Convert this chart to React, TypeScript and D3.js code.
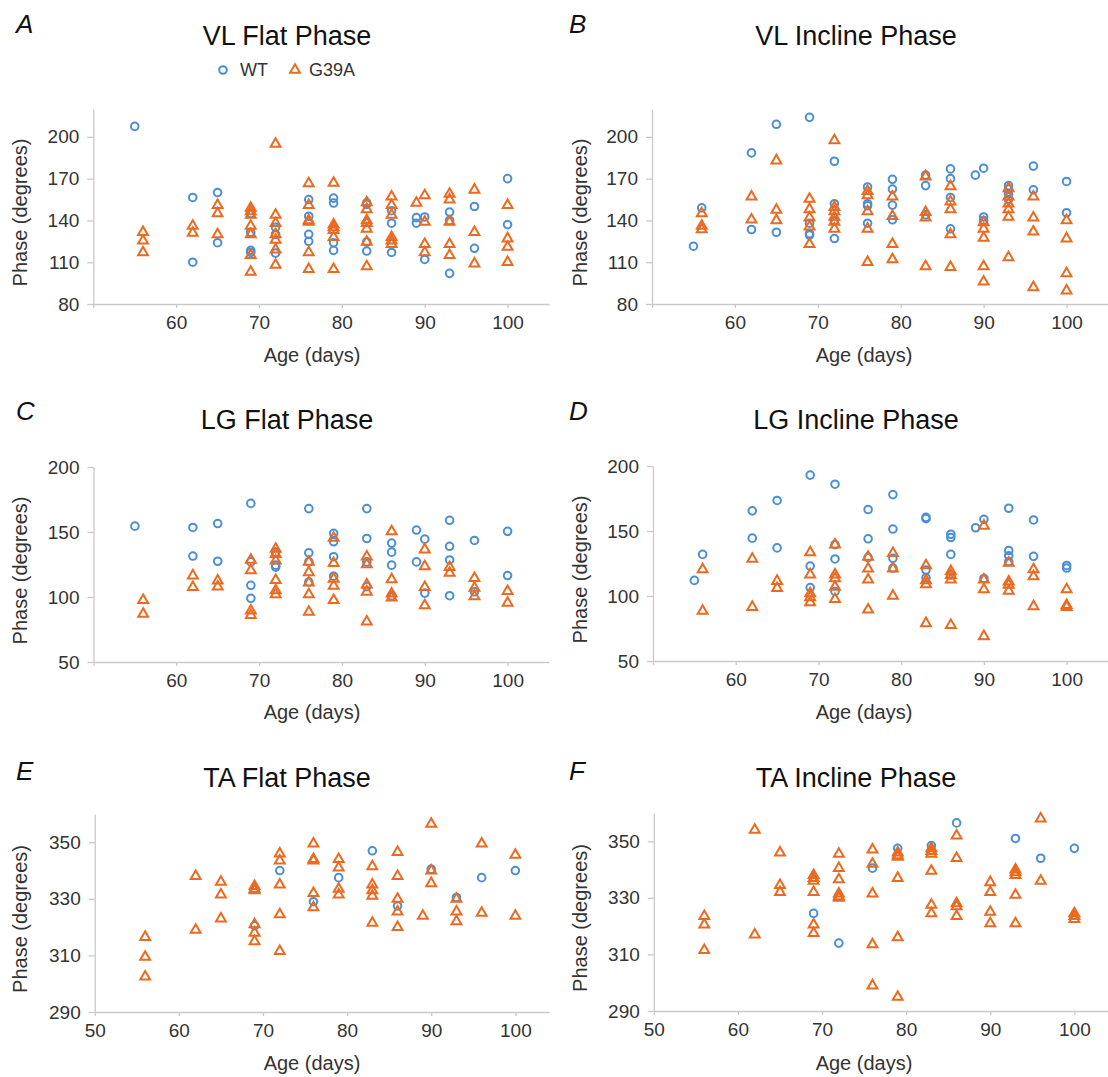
import * as d3 from "d3";
import { useEffect, useRef } from "react";

type Pt = [number, number]; // [age in days, phase in degrees]

const ageTicks = [50, 60, 70, 80, 90, 100];
const vlTicks = [80, 110, 140, 170, 200];
const lgTicks = [50, 100, 150, 200];
const taTicks = [290, 310, 330, 350];

const vlFlatWT: Pt[] = [
    [55, 207.5], [62, 156.5], [62, 110], [65, 160], [65, 124], [69, 145], [69, 131.5], [69, 118.5], [69, 117],
    [72, 135], [72, 130], [72, 116.5], [76, 155], [76, 143], [76, 130], [76, 125], [79, 156], [79, 152.5],
    [79, 124], [79, 118.5], [83, 152.5], [83, 151.5], [83, 124.5], [83, 118], [86, 147], [86, 138], [86, 117],
    [89, 142], [89, 138], [90, 142.5], [90, 112], [93, 146], [93, 140], [93, 102], [96, 150], [96, 120],
    [100, 170], [100, 137],
];
const vlFlatG39A: Pt[] = [
    [56, 131.5], [56, 125.5], [56, 117], [62, 136], [62, 131], [65, 151], [65, 145], [65, 130],
    [69, 149], [69, 146.5], [69, 144], [69, 136], [69, 130], [69, 115], [69, 103],
    [72, 195], [72, 144], [72, 138], [72, 130], [72, 126], [72, 119], [72, 108],
    [76, 166.5], [76, 151], [76, 140], [76, 139], [76, 117], [76, 105],
    [79, 167], [79, 137], [79, 135], [79, 133], [79, 128], [79, 105],
    [83, 153], [83, 148], [83, 140], [83, 138], [83, 134], [83, 124.5], [83, 107],
    [86, 157], [86, 151], [86, 144], [86, 128], [86, 125.5], [86, 123], [89, 152.5],
    [90, 158], [90, 139], [90, 123], [90, 117], [93, 159], [93, 155], [93, 139], [93, 123], [93, 115],
    [96, 162], [96, 131.5], [96, 109], [100, 151], [100, 127], [100, 121], [100, 110],
];

const vlInclineWT: Pt[] = [
    [55, 121.5], [56, 149], [62, 188.5], [62, 133.5], [65, 209], [65, 131.5], [69, 214], [69, 138], [69, 130.5],
    [69, 129.5], [72, 182.5], [72, 152], [72, 140], [72, 127], [76, 164], [76, 152], [76, 150.5], [76, 138],
    [79, 169.5], [79, 162.5], [79, 151], [79, 140.5], [83, 172.5], [83, 165], [83, 144], [86, 177], [86, 170],
    [86, 156.5], [86, 134], [89, 172.5], [90, 177.5], [90, 142.5], [90, 140], [93, 165], [93, 162.5], [93, 159],
    [93, 155], [96, 179], [96, 162], [100, 168], [100, 145.5],
];
const vlInclineG39A: Pt[] = [
    [56, 145], [56, 136], [56, 133.5], [62, 157], [62, 140.5], [65, 183], [65, 147.5], [65, 140],
    [69, 155.5], [69, 148], [69, 142], [69, 135.5], [69, 123],
    [72, 197.5], [72, 149.5], [72, 146.5], [72, 142.5], [72, 139], [72, 134],
    [76, 161], [76, 158], [76, 146.5], [76, 134], [76, 110], [79, 157], [79, 143], [79, 123], [79, 112],
    [83, 171.5], [83, 146], [83, 142], [83, 107], [86, 164.5], [86, 153.5], [86, 148], [86, 130], [86, 106.5],
    [90, 138.5], [90, 134], [90, 127.5], [90, 107], [90, 96],
    [93, 163], [93, 157], [93, 152], [93, 148], [93, 142.5], [93, 113.5],
    [96, 157], [96, 142], [96, 132], [96, 92], [100, 140], [100, 127], [100, 102], [100, 89.5],
];

const lgFlatWT: Pt[] = [
    [55, 154.5], [62, 153.5], [62, 131.5], [65, 156.5], [65, 127.5], [69, 172], [69, 127], [69, 109], [69, 99],
    [72, 134.5], [72, 124.5], [72, 123], [76, 168], [76, 134], [76, 127], [76, 111.5], [79, 149], [79, 142.5],
    [79, 131], [79, 116], [83, 168], [83, 145], [83, 127], [83, 108], [86, 141.5], [86, 134.5], [86, 124.5],
    [86, 101], [89, 151.5], [89, 127], [90, 144.5], [90, 103], [93, 159], [93, 139], [93, 128.5], [93, 101],
    [96, 143.5], [96, 104], [100, 150.5], [100, 116.5],
];
const lgFlatG39A: Pt[] = [
    [56, 97.5], [56, 87], [62, 116.5], [62, 107.5], [65, 112.5], [65, 108],
    [69, 128.5], [69, 120.5], [69, 89.5], [69, 86], [72, 137], [72, 133], [72, 128], [72, 113], [72, 105], [72, 102],
    [76, 127], [76, 119], [76, 111], [76, 102], [76, 88.5], [79, 145.5], [79, 126], [79, 114], [79, 108.5], [79, 97.5],
    [83, 131], [83, 125], [83, 109.5], [83, 104], [83, 81], [86, 150.5], [86, 113.5], [86, 102.5], [86, 99.5],
    [90, 136.5], [90, 123.5], [90, 107.5], [90, 93.5], [93, 123], [93, 118.5],
    [96, 114.5], [96, 107], [96, 100.5], [100, 104.5], [100, 95.5],
];

const lgInclineWT: Pt[] = [
    [55, 112], [56, 132], [62, 165.5], [62, 144.5], [65, 173.5], [65, 137], [69, 193], [69, 123], [69, 106.5],
    [72, 186], [72, 139.5], [72, 128.5], [72, 103.5], [76, 166.5], [76, 144], [76, 129.5], [79, 178], [79, 151.5],
    [79, 129], [79, 121.5], [83, 160.5], [83, 159.5], [83, 120], [83, 114], [86, 147.5], [86, 145], [86, 132],
    [86, 116], [89, 152.5], [90, 159], [90, 113.5], [93, 167.5], [93, 135], [93, 131], [93, 126.5],
    [96, 158.5], [96, 130.5], [100, 123.5], [100, 121.5],
];
const lgInclineG39A: Pt[] = [
    [56, 120.5], [56, 88.5], [62, 128.5], [62, 91.5], [65, 111.5], [65, 106],
    [69, 133.5], [69, 116.5], [69, 102], [69, 99], [69, 95], [72, 139.5], [72, 116.5], [72, 113.5], [72, 107], [72, 97.5],
    [76, 130], [76, 121], [76, 112.5], [76, 89.5], [79, 133], [79, 121], [79, 100],
    [83, 123.5], [83, 112], [83, 109], [83, 79], [86, 119], [86, 116], [86, 112.5], [86, 77.5],
    [90, 154], [90, 112.5], [90, 105], [90, 69], [93, 125.5], [93, 111], [93, 108.5], [93, 104],
    [96, 120.5], [96, 115], [96, 92], [100, 105], [100, 93], [100, 91.5],
];

const taFlatWT: Pt[] = [
    [69, 320.5], [72, 340], [76, 329], [79, 337.5], [83, 347], [86, 327.5], [90, 340.5], [93, 330.5],
    [96, 337.5], [100, 340],
];
const taFlatG39A: Pt[] = [
    [56, 316.5], [56, 309.5], [56, 302.5], [62, 338], [62, 319], [65, 336], [65, 331.5], [65, 323],
    [69, 334.5], [69, 333.5], [69, 333], [69, 321], [69, 318], [69, 315],
    [72, 346], [72, 343.5], [72, 335], [72, 324.5], [72, 311.5], [76, 349.5], [76, 344], [76, 343.5], [76, 332], [76, 327],
    [79, 344], [79, 341], [79, 333.5], [79, 331.5], [83, 341.5], [83, 335], [83, 333], [83, 331], [83, 321.5],
    [86, 346.5], [86, 338], [86, 330], [86, 325.5], [86, 320], [89, 324], [90, 356.5], [90, 340], [90, 335.5],
    [93, 330], [93, 325.5], [93, 322], [96, 349.5], [96, 325], [100, 345.5], [100, 324],
];

const taInclineWT: Pt[] = [
    [69, 324.5], [72, 314], [76, 340.5], [79, 347.5], [83, 348.5], [86, 356.5], [93, 351], [96, 344], [100, 347.5],
];
const taInclineG39A: Pt[] = [
    [56, 323.5], [56, 320.5], [56, 311.5], [62, 354], [62, 317], [65, 346], [65, 334.5], [65, 332],
    [69, 338], [69, 337], [69, 336], [69, 332], [69, 320.5], [69, 317.5],
    [72, 345.5], [72, 340.5], [72, 336.5], [72, 331.5], [72, 330.5], [72, 330],
    [76, 347], [76, 342], [76, 331.5], [76, 313.5], [76, 299],
    [79, 346], [79, 345], [79, 344.5], [79, 337], [79, 316], [79, 295],
    [83, 347.5], [83, 346.5], [83, 345.5], [83, 339.5], [83, 327.5], [83, 324.5],
    [86, 352], [86, 344], [86, 328], [86, 327], [86, 323.5], [90, 335.5], [90, 332], [90, 325], [90, 321],
    [93, 340], [93, 339], [93, 338], [93, 331], [93, 321], [96, 358], [96, 336],
    [100, 324.5], [100, 323.5], [100, 322.5],
];

const BLUE = "#4a8fd6";
const ORANGE = "#ea6a20";
const AXIS = "#c9c9c9";
const TEXT = "#333";
const FONT = "'Liberation Sans', Arial, Helvetica, sans-serif";

const panels = [
    { letter: "A", title: "VL Flat Phase", wt: vlFlatWT, mut: vlFlatG39A, yTicks: vlTicks,
      xDom: [50, 105], yDom: [80, 220], xR: [93.3, 549], yR: [304, 109], label50: false,
      left: 0, top: 0, legend: true },
    { letter: "B", title: "VL Incline Phase", wt: vlInclineWT, mut: vlInclineG39A, yTicks: vlTicks,
      xDom: [50, 105], yDom: [80, 220], xR: [652, 1108], yR: [304, 109], label50: false,
      left: 1, top: 0, legend: false },
    { letter: "C", title: "LG Flat Phase", wt: lgFlatWT, mut: lgFlatG39A, yTicks: lgTicks,
      xDom: [50, 105], yDom: [50, 200], xR: [93.5, 549], yR: [662, 467], label50: false,
      left: 0, top: 1, legend: false },
    { letter: "D", title: "LG Incline Phase", wt: lgInclineWT, mut: lgInclineG39A, yTicks: lgTicks,
      xDom: [50, 105], yDom: [50, 200], xR: [653, 1108], yR: [661, 466], label50: false,
      left: 1, top: 1, legend: false },
    { letter: "E", title: "TA Flat Phase", wt: taFlatWT, mut: taFlatG39A, yTicks: taTicks,
      xDom: [50, 104], yDom: [290, 360], xR: [94.7, 549], yR: [1012, 814], label50: true,
      left: 0, top: 2, legend: false },
    { letter: "F", title: "TA Incline Phase", wt: taInclineWT, mut: taInclineG39A, yTicks: taTicks,
      xDom: [50, 104], yDom: [290, 360], xR: [653.8, 1108], yR: [1011, 813], label50: true,
      left: 1, top: 2, legend: false },
];

// per row / column text positions
const titleX = [287, 856];
const letterX = [16, 569];
const yLabelX = [20, 580];
const xLabelX = [312, 864];
const titleBase = [45, 429, 787];
const letterBase = [33, 420, 780];
const xLabelBase = [362, 719, 1070];

const R = 3.8;
const STROKE = 2;
const triangle = d3.symbol().type(d3.symbolTriangle).size(42);

function drawPanel(svg: any, p: any) {
    const scX = d3.scaleLinear().domain(p.xDom).range(p.xR);
    const scY = d3.scaleLinear().domain(p.yDom).range(p.yR);

    const axisX = d3.axisBottom(scX)
        .tickValues(ageTicks)
        .tickSize(4)
        .tickSizeOuter(0)
        .tickPadding(8)
        .tickFormat((d: any) => (d === 50 && !p.label50 ? "" : String(d)));

    const gx = svg.append("g")
        .attr("transform", `translate(0, ${p.yR[0]})`)
        .call(axisX);

    const axisY = d3.axisLeft(scY)
        .tickValues(p.yTicks)
        .tickSize(6)
        .tickSizeOuter(0)
        .tickPadding(8);

    const gy = svg.append("g")
        .attr("transform", `translate(${p.xR[0]}, 0)`)
        .call(axisY);

    [gx, gy].forEach(g => {
        g.select(".domain").attr("stroke", AXIS).attr("stroke-width", 1.3);
        g.selectAll(".tick line").attr("stroke", AXIS).attr("stroke-width", 1.3);
        g.selectAll(".tick text")
            .attr("fill", TEXT)
            .style("font-family", FONT)
            .style("font-size", "19px");
    });

    // axis titles
    svg.append("text")
        .attr("x", xLabelX[p.left])
        .attr("y", xLabelBase[p.top])
        .attr("text-anchor", "middle")
        .attr("fill", TEXT)
        .style("font-family", FONT)
        .style("font-size", "20px")
        .text("Age (days)");

    const yMid = (p.yR[0] + p.yR[1]) / 2 + 6;
    svg.append("text")
        .attr("transform", `translate(${yLabelX[p.left]}, ${yMid}) rotate(-90)`)
        .attr("dy", "0.35em")
        .attr("text-anchor", "middle")
        .attr("fill", TEXT)
        .style("font-family", FONT)
        .style("font-size", "20px")
        .text("Phase (degrees)");

    svg.append("text")
        .attr("x", titleX[p.left])
        .attr("y", titleBase[p.top])
        .attr("text-anchor", "middle")
        .attr("fill", "#111")
        .style("font-family", FONT)
        .style("font-size", "27px")
        .text(p.title);

    svg.append("text")
        .attr("x", letterX[p.left])
        .attr("y", letterBase[p.top])
        .attr("fill", "#111")
        .style("font-family", FONT)
        .style("font-size", "26px")
        .style("font-style", "italic")
        .text(p.letter);

    // WT circles
    svg.append("g")
        .selectAll("circle")
        .data(p.wt)
        .enter()
        .append("circle")
        .attr("cx", (d: Pt) => scX(d[0]))
        .attr("cy", (d: Pt) => scY(d[1]))
        .attr("r", R)
        .attr("fill", "none")
        .attr("stroke", BLUE)
        .attr("stroke-width", STROKE);

    // G39A triangles
    svg.append("g")
        .selectAll("path")
        .data(p.mut)
        .enter()
        .append("path")
        .attr("d", triangle)
        .attr("transform", (d: Pt) => `translate(${scX(d[0])}, ${scY(d[1])})`)
        .attr("fill", "none")
        .attr("stroke", ORANGE)
        .attr("stroke-width", STROKE);

    if (p.legend) {
        const lg = svg.append("g");
        lg.append("circle")
            .attr("cx", 223).attr("cy", 70).attr("r", R)
            .attr("fill", "none").attr("stroke", BLUE).attr("stroke-width", STROKE);
        lg.append("text")
            .attr("x", 240).attr("y", 76)
            .attr("fill", TEXT)
            .style("font-family", FONT).style("font-size", "18px")
            .text("WT");
        lg.append("path")
            .attr("d", triangle)
            .attr("transform", "translate(295, 70)")
            .attr("fill", "none").attr("stroke", ORANGE).attr("stroke-width", STROKE);
        lg.append("text")
            .attr("x", 309).attr("y", 76)
            .attr("fill", TEXT)
            .style("font-family", FONT).style("font-size", "18px")
            .text("G39A");
    }
}

export default function App() {
    const svgRef = useRef<SVGSVGElement | null>(null);

    useEffect(() => {
        const svg = d3.select(svgRef.current);
        svg.selectAll("*").remove();
        panels.forEach(p => drawPanel(svg, p));
    }, []);

    return (
        <div style={{ position: "absolute", left: 0, top: 0 }}>
            <svg
                ref={svgRef}
                width={1108}
                height={1077}
                style={{ display: "block", background: "#fff" }}
            ></svg>
        </div>
    );
}
